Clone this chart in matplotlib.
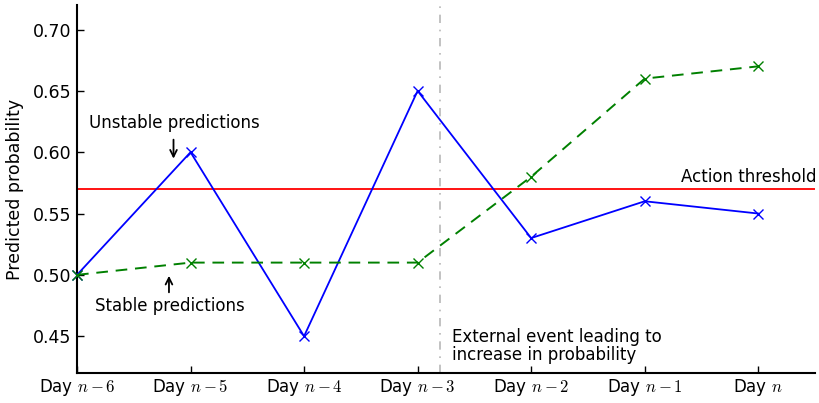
import matplotlib
matplotlib.use("Agg")
import matplotlib.pyplot as plt

plt.rcParams["mathtext.fontset"] = "cm"

days = ["Day $n-6$", "Day $n-5$", "Day $n-4$", "Day $n-3$", "Day $n-2$", "Day $n-1$", "Day $n$"]
unstable = [0.50, 0.60, 0.45, 0.65, 0.53, 0.56, 0.55]
stable = [0.50, 0.51, 0.51, 0.51, 0.58, 0.66, 0.67]
threshold = 0.57
event_x = 3.2

fig = plt.figure(figsize=(8.2, 4.03), dpi=100)
ax = fig.add_axes([77/820, 1 - 373/403, (815-77)/820, (373-5)/403])
x = list(range(len(days)))
ax.plot(x, unstable, color="b", lw=1.3, marker="x", ms=7.5, mew=1.0, clip_on=False, zorder=3)
ax.plot(x, stable, color="g", lw=1.4, ls="--", dashes=(6, 4), marker="x", ms=7.5, mew=1.0, clip_on=False, zorder=3)
ax.axhline(threshold, color="r", lw=1.3)
ax.axvline(event_x, color="0.72", lw=1.2, ls=(0, (5, 4, 1, 4)))

ax.set_xlim(0, 6.5)
ax.set_ylim(0.42, 0.72)
ax.set_xticks(x)
ax.set_xticklabels(days, fontsize=12)
ax.set_yticks([0.45, 0.50, 0.55, 0.60, 0.65, 0.70])
ax.set_yticklabels(["0.45", "0.50", "0.55", "0.60", "0.65", "0.70"], fontsize=12.5)
ax.set_ylabel("Predicted probability", fontsize=12.5)
ax.yaxis.set_label_coords(-0.072, 0.5)
for s in ["top", "right"]:
    ax.spines[s].set_visible(False)
for s in ["left", "bottom"]:
    ax.spines[s].set_linewidth(1.5)
ax.tick_params(direction="in", length=5, width=1, top=False, right=False)
ax.tick_params(axis="y", pad=4)
ax.tick_params(axis="x", pad=3)

ax.text(0.86, 0.624, "Unstable predictions", ha="center", va="center", fontsize=12)
ax.annotate("", xy=(0.85, 0.5925), xytext=(0.85, 0.6125),
            arrowprops=dict(arrowstyle="->", color="k", lw=1.3, mutation_scale=12))
ax.text(0.82, 0.475, "Stable predictions", ha="center", va="center", fontsize=12)
ax.annotate("", xy=(0.81, 0.5015), xytext=(0.81, 0.4835),
            arrowprops=dict(arrowstyle="->", color="k", lw=1.3, mutation_scale=12))
ax.text(6.51, 0.5725, "Action threshold", ha="right", va="bottom", fontsize=12)
ax.text(3.3, 0.4275, "External event leading to\nincrease in probability", ha="left", va="bottom",
        fontsize=12, linespacing=1.0)

fig.savefig("out.png", dpi=100)
